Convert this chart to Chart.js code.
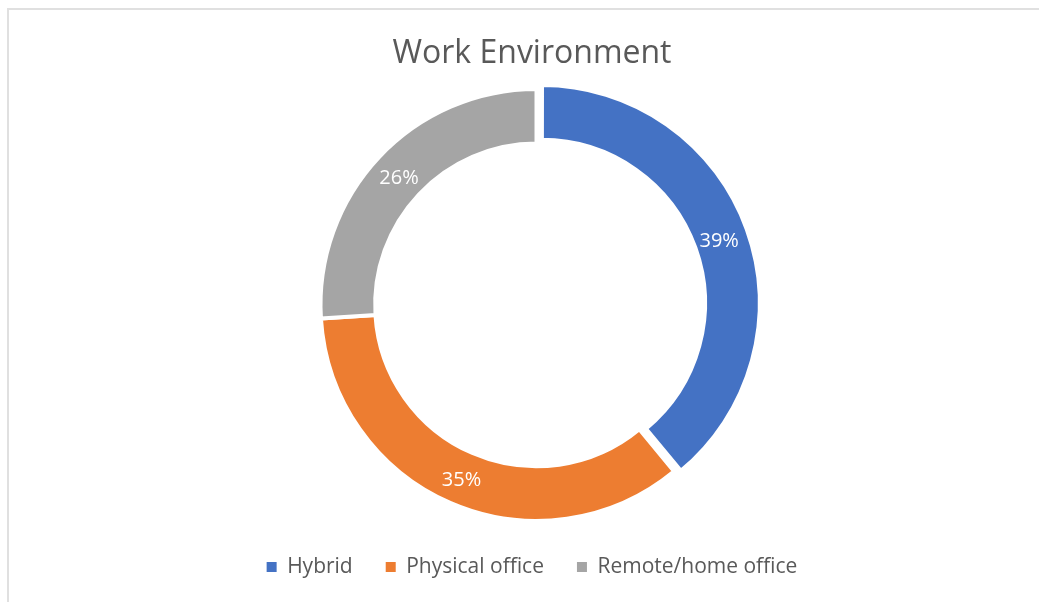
<!DOCTYPE html>
<html>
<head>
<meta charset="utf-8">
<script src="https://cdn.jsdelivr.net/npm/chart.js@4.4.0/dist/chart.umd.min.js"></script>
<style>
  html, body { margin: 0; padding: 0; background: #fff; }
  #frame { position: absolute; left: 7px; top: 8px; width: 1100px; height: 700px;
           border-left: 2px solid #e0e0e0; border-top: 2px solid #e0e0e0; }
  #wrap { position: absolute; left: 0; top: 0; width: 1039px; height: 602px; }
</style>
</head>
<body>
<div id="frame"></div>
<div id="wrap"><canvas id="workEnv"></canvas></div>
<script>
var categories = ['Hybrid', 'Physical office', 'Remote/home office'];
var shares = [39, 35, 26];
var sliceColors = ['#4472C4', '#ED7D31', '#A5A5A5'];
var sliceOffsets = [22, 0, 0];

// ring sits a bit right of the title / legend centre
var ringShift = 4.5;

var ringShiftPlugin = {
    id: 'ringShift',
    beforeDatasetsDraw: function (chart) {
        chart.ctx.save();
        chart.ctx.translate(ringShift, 0);
    },
    afterDatasetsDraw: function (chart) {
        var ctx = chart.ctx;
        var meta = chart.getDatasetMeta(0);
        // percent labels in the middle of the ring
        ctx.font = '20px "Open Sans"';
        ctx.fillStyle = '#ffffff';
        ctx.textAlign = 'center';
        ctx.textBaseline = 'middle';
        meta.data.forEach(function (arc, i) {
            var mid = (arc.startAngle + arc.endAngle) / 2;
            var r = (arc.innerRadius + arc.outerRadius) / 2 + (sliceOffsets[i] || 0) / 4;
            ctx.fillText(shares[i] + '%', arc.x + Math.cos(mid) * r, arc.y + Math.sin(mid) * r + 2.5);
        });
        ctx.restore();
    }
};

var ctx = document.getElementById('workEnv').getContext('2d');
var myChart = new Chart(ctx, {
    type: 'doughnut',
    data: {
        labels: categories,
        datasets: [{
            data: shares,
            backgroundColor: sliceColors,
            borderColor: '#ffffff',
            borderWidth: 4,
            offset: sliceOffsets
        }]
    },
    options: {
        responsive: true,
        maintainAspectRatio: false,
        animation: false,
        radius: 216,
        cutout: '74.7%',
        layout: { padding: { left: 25, right: 0, top: 0, bottom: 14.5 } },
        plugins: {
            title: {
                display: true,
                text: 'Work Environment',
                color: '#595959',
                font: { family: '"Open Sans"', size: 32, weight: 'normal' },
                padding: { top: 35, bottom: 13 }
            },
            legend: {
                position: 'bottom',
                labels: {
                    color: '#595959',
                    font: { family: '"Open Sans"', size: 21 },
                    boxWidth: 10,
                    boxHeight: 10,
                    padding: 33,
                    generateLabels: function (chart) {
                        return categories.map(function (c, i) {
                            return { text: c, fillStyle: sliceColors[i], strokeStyle: sliceColors[i],
                                     lineWidth: 0, fontColor: '#595959', index: i, hidden: false };
                        });
                    }
                }
            },
            tooltip: { enabled: false }
        }
    },
    plugins: [ringShiftPlugin]
});
</script>
</body>
</html>
